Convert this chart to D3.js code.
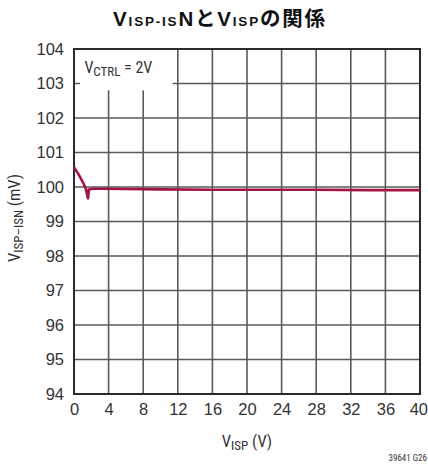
<!DOCTYPE html>
<html><head><meta charset="utf-8">
<script src="https://cdn.jsdelivr.net/npm/d3@7"></script>
<style>
body{margin:0;background:#fff;}
svg{display:block;}
.narrow{font-family:"Liberation Sans Narrow","Arial Narrow","Roboto Condensed","Liberation Sans",sans-serif;}
</style></head>
<body>
<svg id="c" width="428" height="466"></svg>
<script>
const xTicks = [0,4,8,12,16,20,24,28,32,36,40];
const yTicks = [94,95,96,97,98,99,100,101,102,103,104];
const visp = [0, 0.5, 1.0, 1.35, 1.62, 1.72, 2.2, 3, 6, 10, 16, 20, 28, 34, 40];
const visn = [100.57, 100.38, 100.15, 99.96, 99.67, 99.93, 99.95, 99.95, 99.94, 99.93, 99.92, 99.92, 99.92, 99.91, 99.91];

const svg = d3.select("#c");
const L=74, R=420, T=49, B=394;
const x = d3.scaleLinear().domain([0,40]).range([L,R]);
const y = d3.scaleLinear().domain([94,104]).range([B,T]);

// title
const title = svg.append("text").attr("x",220).attr("y",26).attr("text-anchor","middle")
  .attr("font-family","'Liberation Sans','Noto Sans CJK JP',sans-serif").attr("font-weight","bold").attr("font-size",20.5).attr("fill","#111")
  .attr("letter-spacing",1.8);
title.append("tspan").text("V");
title.append("tspan").attr("font-size",13.5).text("ISP-IS");
title.append("tspan").text("N");
title.append("tspan").attr("font-family","'Noto Sans CJK JP',sans-serif").text("と");
title.append("tspan").text("V");
title.append("tspan").attr("font-size",13.5).text("ISP");
title.append("tspan").attr("font-family","'Noto Sans CJK JP',sans-serif").text("の関係");

// grid
const g = svg.append("g");
g.selectAll(".vg").data(xTicks).enter().append("line")
  .attr("x1",d=>x(d)).attr("x2",d=>x(d)).attr("y1",T).attr("y2",B)
  .attr("stroke","#5a5a5a").attr("stroke-width",1.6);
g.selectAll(".hg").data(yTicks).enter().append("line")
  .attr("x1",L).attr("x2",R).attr("y1",d=>y(d)).attr("y2",d=>y(d))
  .attr("stroke","#5a5a5a").attr("stroke-width",1.6);

// label box
svg.append("rect").attr("x",x(0.7)).attr("y",T+1).attr("width",x(11.4)-x(0.7)).attr("height",y(102.8)-T-1).attr("fill","#fff");
const lab = svg.append("text").attr("class","narrow").attr("x",x(1.2)).attr("y",y(103.3)).attr("font-size",16).attr("fill","#333");
lab.append("tspan").text("V");
lab.append("tspan").attr("font-size",13).attr("dy",3).text("CTRL");
lab.append("tspan").attr("dy",-3).text(" = 2V");

// frame
svg.append("rect").attr("x",L).attr("y",T).attr("width",R-L).attr("height",B-T)
  .attr("fill","none").attr("stroke","#2a2a2a").attr("stroke-width",2);

// curve
svg.append("path").datum(visp.map((v,i)=>[v,visn[i]]))
  .attr("d", d3.line().x(d=>x(d[0])).y(d=>y(d[1])))
  .attr("fill","none").attr("stroke","#a3153f").attr("stroke-width",2.6).attr("stroke-linejoin","round");

// axes
const ya = svg.append("g").attr("transform",`translate(${L},0)`).call(d3.axisLeft(y).tickValues(yTicks).tickSize(0).tickPadding(10));
const xa = svg.append("g").attr("transform",`translate(0,${B})`).call(d3.axisBottom(x).tickValues(xTicks).tickSize(0).tickPadding(9));
[ya,xa].forEach(a=>{a.select(".domain").remove();
  a.selectAll("text").attr("class","narrow").attr("font-size",16.5).attr("fill","#333").style("font-family","'Liberation Sans Narrow','Arial Narrow',sans-serif");});
// keep last x label inside the picture
xa.selectAll(".tick").filter(d=>d===40).select("text").attr("text-anchor","end").attr("x",7.5);

// axis titles
const xt = svg.append("text").attr("class","narrow").attr("x",x(20)).attr("y",447).attr("text-anchor","middle").attr("font-size",16.5).attr("fill","#333");
xt.append("tspan").text("V");
xt.append("tspan").attr("font-size",13).attr("dy",3).text("ISP");
xt.append("tspan").attr("dy",-3).text(" (V)");

const yt = svg.append("text").attr("class","narrow").attr("transform","translate(20,218) rotate(-90)").attr("text-anchor","middle").attr("font-size",16.5).attr("fill","#333");
yt.append("tspan").text("V");
yt.append("tspan").attr("font-size",13).attr("dy",3).text("ISP–ISN");
yt.append("tspan").attr("dy",-3).text(" (mV)");

svg.append("text").attr("class","narrow").attr("x",427).attr("y",461).attr("text-anchor","end").attr("font-size",9).attr("fill","#333").text("39641 G26");
</script>
</body></html>
